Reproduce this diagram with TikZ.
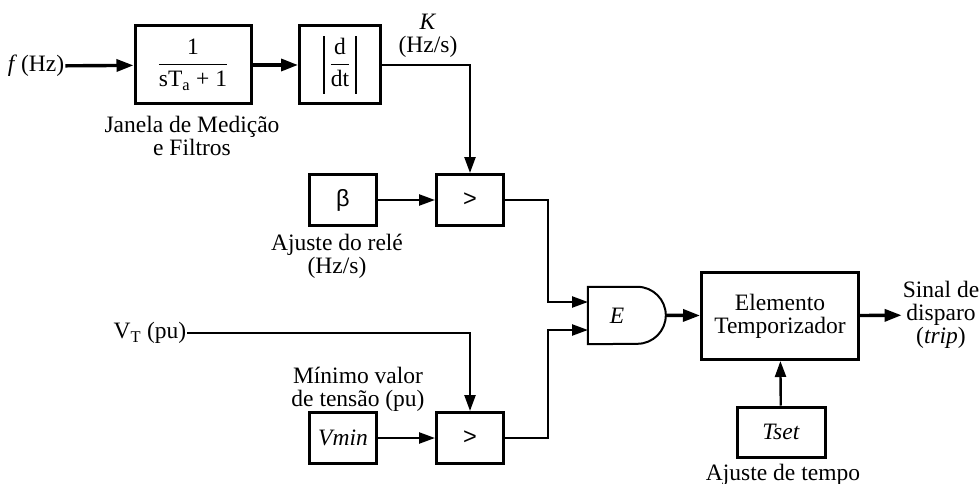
\documentclass[tikz,border=0pt]{standalone}
\usepackage{fix-cm}
\usepackage{amsmath}
\usepackage{fontspec}
\setmainfont{Liberation Serif}
\newfontfamily\sansf{Liberation Sans}
\usetikzlibrary{arrows.meta}
\tikzset{
  blk/.style={draw, line width=3pt, minimum width=67pt, minimum height=51pt, inner sep=2pt},
  sig/.style={line width=2.4pt, -{Triangle[length=16pt,width=11pt]}},
  sigb/.style={line width=3.4pt, -{Triangle[length=17pt,width=12pt]}},
  lbl/.style={align=center, inner sep=1pt},
}
\newcommand{\absbar}{\vrule width 1.3pt height 34pt depth 24pt}
\begin{document}
\begin{tikzpicture}[x=1pt, y=-1pt, font=\fontsize{23.5}{23}\selectfont]
    \useasboundingbox (0,0) rectangle (979,484);

    % 测量窗口与滤波
    \node[lbl] (fin) at (36,66) {\textit{f}\,(Hz)};
    \node[blk, minimum width=116pt, minimum height=78pt] (filt) at (193,65) {$\dfrac{\text{1}}{\text{sT\textsubscript{a} + 1}}$};
    \node[blk, minimum width=81pt, minimum height=78pt] (deriv) at (340,65) {\absbar\hspace{5pt}$\dfrac{\text{d}}{\text{dt}}$\hspace{5pt}\absbar};
    \node[lbl] (klab) at (428,36) {\textit{K}\\(Hz/s)};
    \node[lbl] (janela) at (192,136) {Janela de Medição\\e Filtros};

    % 比较器
    \node[blk] (beta) at (343,200) {\sansf β};
    \node[blk] (cmp1) at (470,200) {\sansf >};
    \node[lbl] (rele) at (337,256) {Ajuste do relé\\(Hz/s)};

    \node[lbl] (vt) at (150,333) {V\textsubscript{T} (pu)};
    \node[blk] (vmin) at (343,438) {\textit{Vmin}};
    \node[blk] (cmp2) at (470,438) {\sansf >};
    \node[lbl] (minimo) at (358,389) {Mínimo valor\\de tensão (pu)};

    % 与门
    \node[minimum width=58pt, minimum height=57pt, inner sep=0pt] (andg) at (617,315.5) {\textit{E}};
    \draw[line width=2pt] (andg.north west) -- ++(49.5,0)
        arc[start angle=90, end angle=0, radius=28.5pt] coordinate (aout)
        arc[start angle=0, end angle=-90, radius=28.5pt] -- (andg.south west) -- cycle;
    \coordinate (in1) at (588,302);
    \coordinate (in2) at (588,330);

    % 计时器
    \node[blk, minimum width=157pt, minimum height=87pt, align=center] (timer) at (780,316) {Elemento\\Temporizador};
    \node[blk, minimum width=88pt, minimum height=50pt] (tset) at (781,432) {\textit{Tset}};
    \node[lbl] (tempo) at (783,475) {Ajuste de tempo};
    \node[lbl] (trip) at (941,315) {Sinal de\\disparo\\(\textit{trip})};

    % 连线
    \draw[sigb] (fin) -- (filt);
    \draw[sigb] (filt) -- (deriv);
    \draw[sig] (deriv.east) -| (cmp1.north);
    \draw[sig] (beta) -- (cmp1);
    \draw[sig] (cmp1.east) -- ++(43,0) |- (in1);
    \draw[sig] (vt.east) -| (cmp2.north);
    \draw[sig] (vmin) -- (cmp2);
    \draw[sig] (cmp2.east) -- ++(43,0) |- (in2);
    \draw[sigb] (aout) -- (timer);
    \draw[sigb] (timer) -- (trip);
    \draw[sig] (tset) -- (timer);
\end{tikzpicture}
\end{document}
